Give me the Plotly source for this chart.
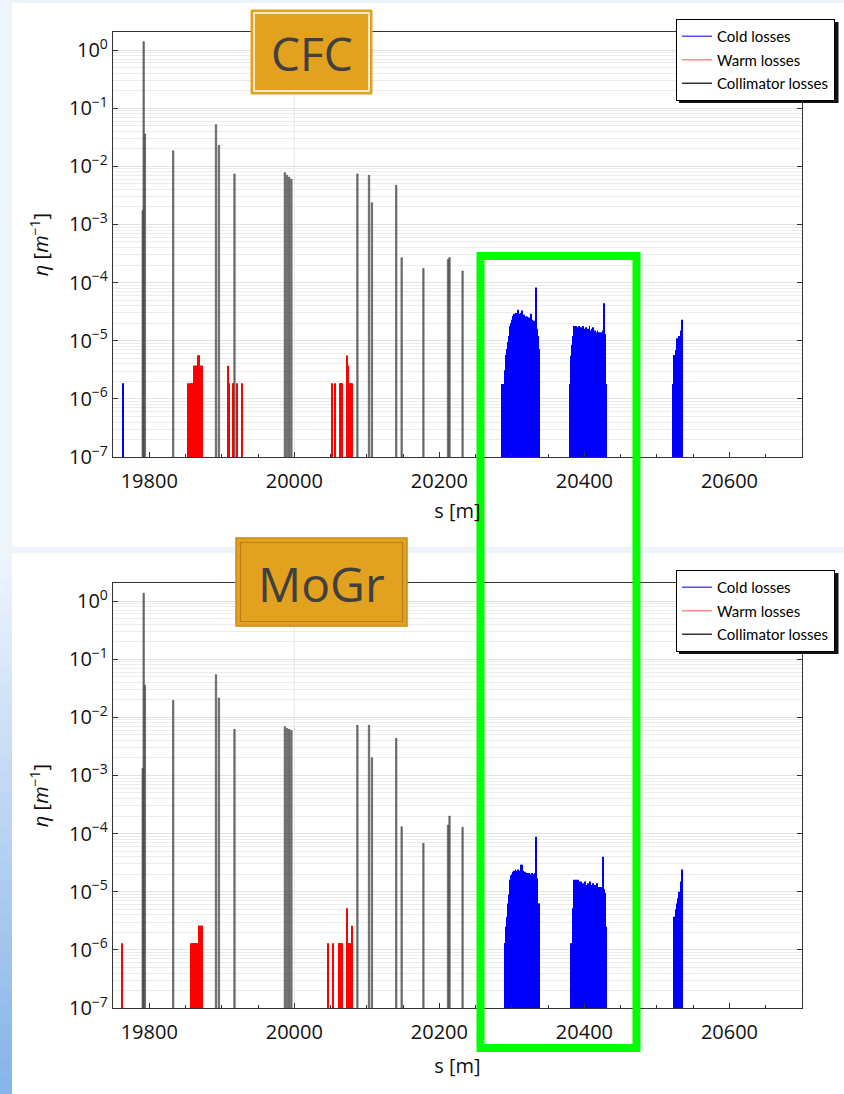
import plotly.graph_objects as go

W, H = 844, 1094

# ---------------- data ----------------
# collimator losses (s position [m], eta [1/m])
S_COLL = [19791, 19792.3, 19794, 19833, 19892, 19896, 19917.5, 19987, 19990, 19993, 19996,
          20087, 20103, 20107, 20140.5, 20148, 20178, 20212, 20214, 20232]
COLL_CFC = [0.00175, 1.39, 0.036, 0.0185, 0.052, 0.023, 0.0074, 0.0078, 0.0070, 0.0065, 0.0060,
            0.0074, 0.0070, 0.00237, 0.0047, 0.000268, 0.000174, 0.00025, 0.00027, 0.000158]
COLL_MOGR = [0.00133, 1.36, 0.0355, 0.0196, 0.054, 0.0215, 0.0062, 0.0069, 0.0064, 0.0062, 0.0059,
             0.0073, 0.0073, 0.00202, 0.00435, 0.000131, 0.000068, 0.00014, 0.0002, 0.000128]

# warm losses
S_WARM_CFC = [19853, 19856, 19858, 19859, 19860, 19861, 19862, 19863, 19864, 19865, 19866,
              19867, 19868, 19869, 19870, 19871, 19872, 19873,
              19908, 19909.8, 19916, 19921, 19928,
              20052.5, 20056, 20063, 20064, 20065, 20066, 20072, 20073.5,
              20075, 20076, 20077, 20078, 20079]
WARM_CFC = [1.85e-6, 1.85e-6, 1.85e-6, 1.85e-6, 1.85e-6, 3.7e-6, 3.7e-6, 3.7e-6, 3.7e-6, 3.7e-6, 3.7e-6,
            5.55e-6, 5.55e-6, 5.55e-6, 3.7e-6, 3.7e-6, 3.7e-6, 3.7e-6,
            3.7e-6, 1.85e-6, 1.85e-6, 1.85e-6, 1.85e-6,
            1.85e-6, 1.85e-6, 1.85e-6, 1.85e-6, 1.85e-6, 1.85e-6, 5.55e-6, 3.7e-6,
            1.85e-6, 1.85e-6, 1.85e-6, 1.85e-6, 1.85e-6]
S_WARM_MOGR = [19762, 19858, 19859, 19860, 19861, 19862, 19863, 19864, 19865, 19866, 19867,
               19868, 19869, 19870, 19871, 19872, 19873,
               20047, 20053, 20061, 20062, 20063, 20064, 20065, 20066, 20072.5,
               20075, 20076, 20077, 20078, 20079, 20080]
WARM_MOGR = [1.3e-6, 1.3e-6, 1.3e-6, 1.3e-6, 1.3e-6, 1.3e-6, 1.3e-6, 1.3e-6, 1.3e-6, 1.3e-6, 1.3e-6,
             2.6e-6, 2.6e-6, 2.6e-6, 2.6e-6, 2.6e-6, 2.6e-6,
             1.3e-6, 1.3e-6, 1.3e-6, 1.3e-6, 1.3e-6, 1.3e-6, 1.3e-6, 1.3e-6, 5.2e-6,
             1.3e-6, 1.3e-6, 1.3e-6, 1.3e-6, 2.6e-6, 1.3e-6]

# cold losses (1 m bins)
S_COLD_CFC_ISO = [19764]
COLD_CFC_ISO = [1.85e-6]
COLD_CFC_B1_START = 20287
COLD_CFC_B1 = [1.8e-6, 1.8e-6, 1.8e-6, 1.8e-6, 3.1e-6, 5.7e-6, 7.2e-6, 7.2e-6, 9.5e-6, 1.2e-5,
               1.5e-5, 1.8e-5, 2.0e-5, 2.3e-5, 2.6e-5, 2.7e-5, 2.9e-5, 2.6e-5, 2.8e-5, 3.0e-5,
               2.7e-5, 3.4e-5, 2.8e-5, 2.9e-5, 2.6e-5, 3.0e-5, 2.7e-5, 3.3e-5, 2.8e-5, 2.6e-5,
               2.8e-5, 2.5e-5, 2.6e-5, 2.4e-5, 2.6e-5, 2.3e-5, 2.5e-5, 2.2e-5, 2.4e-5, 2.9e-5,
               2.2e-5, 2.3e-5, 2.1e-5, 2.2e-5, 2.0e-5, 2.1e-5, 8.2e-5, 1.6e-5, 1.5e-5, 1.2e-5,
               7.2e-6]
COLD_CFC_B2_START = 20380
COLD_CFC_B2 = [1.8e-6, 1.8e-6, 5.5e-6, 8.5e-6, 1.2e-5, 1.5e-5, 1.8e-5, 1.6e-5, 1.8e-5, 1.5e-5,
               1.7e-5, 1.4e-5, 1.8e-5, 1.6e-5, 1.4e-5, 1.7e-5, 1.3e-5, 1.5e-5, 1.8e-5, 1.4e-5,
               1.6e-5, 1.3e-5, 1.7e-5, 1.5e-5, 1.2e-5, 1.6e-5, 1.4e-5, 1.8e-5, 1.5e-5, 1.3e-5,
               1.6e-5, 1.4e-5, 1.7e-5, 1.3e-5, 1.5e-5, 1.2e-5, 1.4e-5, 1.3e-5, 1.5e-5, 1.2e-5,
               1.4e-5, 1.3e-5, 1.1e-5, 1.4e-5, 1.3e-5, 1.5e-5, 1.4e-5, 4.4e-5, 1.3e-5, 7.2e-6,
               1.8e-6]
COLD_CFC_B3_START = 20522
COLD_CFC_B3 = [1.8e-6, 1.8e-6, 5.7e-6, 5.7e-6, 6.9e-6, 6.9e-6, 1.1e-5, 9.0e-6, 1.0e-5, 1.2e-5,
               1.0e-5, 1.5e-5, 2.3e-5, 1.2e-5]

COLD_MOGR_B1_START = 20290
COLD_MOGR_B1 = [1.3e-6, 1.3e-6, 2.5e-6, 3.7e-6, 5.0e-6, 6.3e-6, 9.0e-6, 1.3e-5, 1.6e-5, 1.9e-5,
                2.0e-5, 2.2e-5, 2.1e-5, 2.3e-5, 2.2e-5, 2.4e-5, 2.3e-5, 2.2e-5, 2.4e-5, 2.2e-5,
                2.3e-5, 2.1e-5, 2.9e-5, 2.4e-5, 2.9e-5, 2.2e-5, 2.3e-5, 2.0e-5, 2.2e-5, 2.1e-5,
                1.9e-5, 2.1e-5, 2.0e-5, 1.8e-5, 2.1e-5, 1.9e-5, 2.0e-5, 1.8e-5, 2.1e-5, 1.9e-5,
                2.0e-5, 1.8e-5, 2.1e-5, 8.8e-5, 1.7e-5, 1.4e-5, 6.3e-6, 6.3e-6]
COLD_MOGR_B2_START = 20382
COLD_MOGR_B2 = [1.3e-6, 1.3e-6, 5.2e-6, 1.0e-5, 1.6e-5, 1.5e-5, 1.6e-5, 1.4e-5, 1.5e-5, 1.6e-5,
                1.3e-5, 1.5e-5, 1.4e-5, 1.5e-5, 1.3e-5, 1.4e-5, 1.2e-5, 1.4e-5, 1.3e-5, 1.5e-5,
                1.2e-5, 1.3e-5, 1.1e-5, 1.4e-5, 1.2e-5, 1.3e-5, 1.5e-5, 1.2e-5, 1.3e-5, 1.1e-5,
                1.4e-5, 1.2e-5, 1.3e-5, 1.1e-5, 1.2e-5, 1.4e-5, 1.1e-5, 1.2e-5, 1.0e-5, 1.2e-5,
                1.1e-5, 1.2e-5, 1.0e-5, 1.2e-5, 4.0e-5, 1.1e-5, 9.5e-6, 6.3e-6, 2.5e-6]
COLD_MOGR_B3_START = 20524
COLD_MOGR_B3 = [3.7e-6, 3.7e-6, 5.0e-6, 6.3e-6, 5.5e-6, 7.7e-6, 7.0e-6, 1.0e-5, 9.0e-6, 1.5e-5,
                2.4e-5, 1.0e-5]

X_TICKS = [19800, 20000, 20200, 20400, 20600]
X_TICKTEXT = ["19800", "20000", "20200", "20400", "20600"]
Y_TICKS = [1e-7, 1e-6, 1e-5, 1e-4, 1e-3, 1e-2, 1e-1, 1]
Y_TICKTEXT = ["10<sup>\u22127</sup>", "10<sup>\u22126</sup>", "10<sup>\u22125</sup>", "10<sup>\u22124</sup>",
              "10<sup>\u22123</sup>", "10<sup>\u22122</sup>", "10<sup>\u22121</sup>", "10<sup>0</sup>"]
PANEL_TITLES = ["CFC", "MoGr"]
LEGEND_NAMES = ["Cold losses", "Warm losses", "Collimator losses"]

# ---------------- styles ----------------
COLD_C = "#0000ff"
WARM_C = "#ff0000"
LEG_COLORS = ["rgba(50,50,255,0.85)", "rgba(255,100,100,0.75)", "#333333"]


def X(px):
    return px / W


def Y(py):
    return 1 - py / H


def block_s(start, vals):
    return [start + i for i in range(len(vals))]


fig = go.Figure()

panels = [
    dict(coll=COLL_CFC, ws=S_WARM_CFC, wv=WARM_CFC,
         cold=[(S_COLD_CFC_ISO, COLD_CFC_ISO),
               (block_s(COLD_CFC_B1_START, COLD_CFC_B1), COLD_CFC_B1),
               (block_s(COLD_CFC_B2_START, COLD_CFC_B2), COLD_CFC_B2),
               (block_s(COLD_CFC_B3_START, COLD_CFC_B3), COLD_CFC_B3)]),
    dict(coll=COLL_MOGR, ws=S_WARM_MOGR, wv=WARM_MOGR,
         cold=[(block_s(COLD_MOGR_B1_START, COLD_MOGR_B1), COLD_MOGR_B1),
               (block_s(COLD_MOGR_B2_START, COLD_MOGR_B2), COLD_MOGR_B2),
               (block_s(COLD_MOGR_B3_START, COLD_MOGR_B3), COLD_MOGR_B3)]),
]

for i, p in enumerate(panels):
    xa = "x" if i == 0 else "x2"
    ya = "y" if i == 0 else "y2"
    leg = "legend" if i == 0 else "legend2"
    cs, cv = [], []
    for s_list, v_list in p["cold"]:
        cs += s_list
        cv += v_list
    fig.add_trace(go.Bar(x=cs, y=cv, width=1.3, marker=dict(color=COLD_C, line=dict(width=0)),
                         showlegend=False, xaxis=xa, yaxis=ya, hoverinfo="x+y"))
    fig.add_trace(go.Bar(x=p["ws"], y=p["wv"], width=1.3, marker=dict(color=WARM_C, line=dict(width=0)),
                         showlegend=False, xaxis=xa, yaxis=ya, hoverinfo="x+y"))
    fig.add_trace(go.Bar(x=S_COLL, y=p["coll"], width=2.0,
                         marker=dict(color="rgba(90,90,90,0.8)", line=dict(width=0.5, color="#333")),
                         showlegend=False, xaxis=xa, yaxis=ya, hoverinfo="x+y"))
    for j, (name, col) in enumerate(zip(LEGEND_NAMES, LEG_COLORS)):
        fig.add_trace(go.Scatter(x=[None], y=[None], mode="lines", name=name,
                                 line=dict(color=col, width=1.5), xaxis=xa, yaxis=ya,
                                 legend=leg, legendgroup="g%d%d" % (i, j), showlegend=True))

MINOR_Y = [k * 10.0 ** n for n in range(-7, 1) for k in range(2, 10)]

tickfont = dict(family="Open Sans", size=20, color="#111")
xdom = [X(113), X(802)]
ydoms = [[Y(457), Y(32)], [Y(1008), Y(583)]]
xstandoffs = [10, 14]

for i in range(2):
    sfx = "" if i == 0 else "2"
    fig.layout["xaxis" + sfx] = dict(
        domain=xdom, range=[19750, 20700], tickvals=X_TICKS, ticktext=X_TICKTEXT,
        ticks="inside", ticklen=5, tickcolor="#333", tickwidth=1.2,
        minor=dict(dtick=50, tick0=19800, ticks="inside", ticklen=3, tickcolor="#333", showgrid=False),
        showline=True, mirror=True, linecolor="#333", linewidth=1.3,
        showgrid=False, zeroline=False, tickfont=tickfont, ticklabelstandoff=6,
        anchor="y" + sfx, automargin=False,
        title=dict(text="s [m]", font=dict(family="Open Sans", size=20, color="#111"),
                   standoff=xstandoffs[i]),
    )
    fig.layout["yaxis" + sfx] = dict(
        domain=ydoms[i], type="log", range=[-7, 0.31],
        tickvals=Y_TICKS, ticktext=Y_TICKTEXT,
        ticks="inside", ticklen=5, tickcolor="#333", tickwidth=1.2,
        showline=True, mirror="ticks", linecolor="#333", linewidth=1.3,
        showgrid=True, gridcolor="#e2e2e2", gridwidth=1,
        minor=dict(tickvals=MINOR_Y, showgrid=True, gridcolor="#ececec", gridwidth=1, ticks=""),
        zeroline=False, tickfont=tickfont, anchor="x" + sfx, automargin=False,
        title=dict(text="<i>\u03b7</i> [<i>m</i><sup>\u22121</sup>]",
                   font=dict(family="Open Sans", size=20, color="#111"), standoff=14),
    )

legend_common = dict(xanchor="right", x=X(835), yanchor="top", bgcolor="white",
                     bordercolor="black", borderwidth=1, tracegroupgap=1,
                     font=dict(family="Lato", size=15, color="black"))
fig.update_layout(
    width=W, height=H, margin=dict(l=0, r=0, t=0, b=0, autoexpand=False),
    paper_bgcolor="#eef4fc", plot_bgcolor="white",
    barmode="overlay", bargap=0.1,
    legend=dict(y=Y(19), **legend_common),
    legend2=dict(y=Y(570), **legend_common),
)

shapes = []
# white panels
shapes.append(dict(type="rect", xref="paper", yref="paper", x0=X(12), x1=X(844), y0=Y(547), y1=Y(3),
                   fillcolor="white", line=dict(width=0), layer="below"))
shapes.append(dict(type="rect", xref="paper", yref="paper", x0=X(12), x1=X(844), y0=Y(1094), y1=Y(553),
                   fillcolor="white", line=dict(width=0), layer="below"))
# left gradient strip
n = 30
c0 = (236, 243, 252)
c1 = (135, 180, 234)
for k in range(n):
    t = k / (n - 1)
    col = tuple(int(c0[j] + (c1[j] - c0[j]) * t) for j in range(3))
    ya0 = 560 + (1094 - 560) * k / n
    ya1 = 560 + (1094 - 560) * (k + 1) / n
    shapes.append(dict(type="rect", xref="paper", yref="paper", x0=0, x1=X(12), y0=Y(min(ya1 + 0.5, 1094)), y1=Y(ya0),
                       fillcolor="rgb(%d,%d,%d)" % col, line=dict(width=0), layer="below"))
# vertical grid line at 20000
for ax in ["", "2"]:
    shapes.append(dict(type="line", xref="x" + ax, yref="y" + ax + " domain", x0=20000, x1=20000, y0=0, y1=1,
                       line=dict(color="#e8e8e8", width=1), layer="below"))
# title boxes
shapes.append(dict(type="rect", xref="paper", yref="paper", x0=X(251), x1=X(372), y0=Y(94), y1=Y(10),
                   fillcolor="#e2a11f", line=dict(color="#e2a11f", width=1), layer="above"))
shapes.append(dict(type="rect", xref="paper", yref="paper", x0=X(254), x1=X(369), y0=Y(91), y1=Y(13),
                   fillcolor="rgba(0,0,0,0)", line=dict(color="white", width=1.5), layer="above"))
shapes.append(dict(type="rect", xref="paper", yref="paper", x0=X(236), x1=X(407), y0=Y(626), y1=Y(538),
                   fillcolor="#e2a11f", line=dict(color="#c98a14", width=1.5), layer="above"))
shapes.append(dict(type="rect", xref="paper", yref="paper", x0=X(240.5), x1=X(402.5), y0=Y(621.5), y1=Y(542.5),
                   fillcolor="rgba(0,0,0,0)", line=dict(color="#b97f10", width=1.2), layer="above"))
# legend shadows
for top in [19, 570]:
    shapes.append(dict(type="rect", xref="paper", yref="paper", x0=X(679), x1=X(838.5), y0=Y(top + 84), y1=Y(top + 3),
                       fillcolor="#111", line=dict(width=0), layer="above"))
# green highlight box
shapes.append(dict(type="rect", xref="paper", yref="paper", x0=X(480.5), x1=X(636.5), y0=Y(1048), y1=Y(256),
                   fillcolor="rgba(0,0,0,0)", line=dict(color="#00ff00", width=8), layer="above"))
fig.update_layout(shapes=shapes)

fig.add_annotation(x=X(311.5), y=Y(53), xref="paper", yref="paper", text=PANEL_TITLES[0], showarrow=False,
                   xanchor="center", yanchor="middle", font=dict(family="Open Sans", size=46, color="#404040"))
fig.add_annotation(x=X(321.5), y=Y(583), xref="paper", yref="paper", text=PANEL_TITLES[1], showarrow=False,
                   xanchor="center", yanchor="middle", font=dict(family="Open Sans", size=48, color="#404040"))

fig.write_html("out.html", config={"displayModeBar": False},
               post_script="document.body.style.margin='0';document.body.style.overflow='hidden';")
